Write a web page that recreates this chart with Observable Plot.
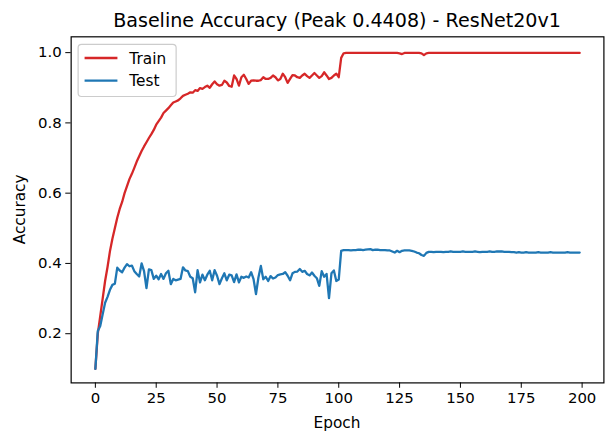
<!DOCTYPE html>
<html>
<head>
<meta charset="utf-8">
<script src="https://cdn.jsdelivr.net/npm/d3@7"></script>
<script src="https://cdn.jsdelivr.net/npm/@observablehq/plot@0.6"></script>
<style>
  html, body { margin: 0; padding: 0; background: #fff; overflow: hidden; }
  #chart { width: 605px; height: 439px; overflow: hidden; position: relative; }
</style>
</head>
<body>
<div id="chart"></div>
<script>
const titleText = "Baseline Accuracy (Peak 0.4408) - ResNet20v1";
const xLabel = "Epoch";
const yLabel = "Accuracy";
const seriesNames = ["Train", "Test"];
const seriesColors = ["#d62728", "#1f77b4"];
const xTicks = [0, 25, 50, 75, 100, 125, 150, 175, 200];
const yTicks = [0.2, 0.4, 0.6, 0.8, 1.0];

const train = [
  0.100,0.200,0.250,0.300,0.350,0.390,0.435,0.470,0.500,0.530,
  0.555,0.575,0.600,0.620,0.640,0.655,0.672,0.690,0.705,0.720,
  0.733,0.745,0.757,0.768,0.780,0.795,0.805,0.815,0.828,0.835,
  0.842,0.850,0.858,0.861,0.864,0.870,0.877,0.880,0.883,0.887,
  0.886,0.893,0.891,0.899,0.897,0.902,0.906,0.900,0.910,0.918,
  0.910,0.906,0.908,0.920,0.915,0.905,0.903,0.935,0.925,0.906,
  0.930,0.937,0.925,0.911,0.920,0.921,0.920,0.920,0.922,0.930,
  0.925,0.925,0.928,0.935,0.930,0.921,0.925,0.940,0.930,0.914,
  0.925,0.936,0.935,0.930,0.928,0.935,0.940,0.933,0.928,0.935,
  0.942,0.935,0.928,0.933,0.944,0.935,0.925,0.928,0.935,0.940,
  0.930,0.985,0.998,0.999,0.999,0.999,0.999,0.999,0.999,0.999,
  0.999,0.999,0.999,0.999,0.999,0.999,0.999,0.999,0.999,0.999,
  0.999,0.999,0.999,0.999,0.999,0.998,0.996,0.999,0.999,0.999,
  0.999,0.999,0.999,0.999,0.998,0.993,0.998,0.999,0.999,0.999,
  0.999,0.999,0.999,0.999,0.999,0.999,0.999,0.999,0.999,0.999,
  0.999,0.999,0.999,0.999,0.999,0.999,0.999,0.999,0.999,0.999,
  0.999,0.999,0.999,0.999,0.999,0.999,0.999,0.999,0.999,0.999,
  0.999,0.999,0.999,0.999,0.999,0.999,0.999,0.999,0.999,0.999,
  0.999,0.999,0.999,0.999,0.999,0.999,0.999,0.999,0.999,0.999,
  0.999,0.999,0.999,0.999,0.999,0.999,0.999,0.999,0.999,0.999
];

const test = [
  0.100,0.208,0.222,0.255,0.288,0.305,0.325,0.339,0.342,0.388,
  0.380,0.375,0.388,0.398,0.392,0.394,0.378,0.370,0.363,0.400,
  0.378,0.330,0.383,0.381,0.356,0.365,0.355,0.370,0.356,0.372,
  0.379,0.341,0.356,0.352,0.354,0.356,0.389,0.380,0.378,0.362,
  0.358,0.318,0.381,0.346,0.368,0.352,0.368,0.379,0.352,0.381,
  0.365,0.341,0.358,0.372,0.352,0.368,0.366,0.347,0.369,0.346,
  0.362,0.359,0.363,0.360,0.375,0.355,0.313,0.360,0.393,0.355,
  0.362,0.350,0.364,0.357,0.360,0.367,0.369,0.370,0.375,0.365,
  0.352,0.372,0.376,0.377,0.384,0.376,0.379,0.370,0.366,0.374,
  0.365,0.358,0.336,0.378,0.362,0.370,0.301,0.372,0.380,0.350,
  0.354,0.436,0.438,0.438,0.438,0.437,0.438,0.438,0.439,0.439,
  0.438,0.439,0.440,0.4408,0.438,0.439,0.439,0.438,0.438,0.438,
  0.437,0.437,0.434,0.431,0.436,0.432,0.436,0.437,0.437,0.437,
  0.436,0.434,0.431,0.429,0.424,0.4215,0.430,0.433,0.433,0.432,
  0.433,0.433,0.433,0.432,0.433,0.433,0.434,0.433,0.433,0.433,
  0.433,0.434,0.433,0.433,0.433,0.433,0.434,0.433,0.432,0.433,
  0.433,0.433,0.434,0.433,0.433,0.434,0.434,0.434,0.433,0.433,
  0.433,0.432,0.432,0.431,0.432,0.431,0.431,0.432,0.431,0.431,
  0.431,0.431,0.432,0.431,0.431,0.431,0.431,0.432,0.431,0.431,
  0.431,0.431,0.431,0.431,0.432,0.431,0.431,0.431,0.431,0.431
];

const FONT = "DejaVu Sans";
const mL = 71, mT = 36.5, mB = 54.7, W = 608, H = 439, mR = 1.6;

const plot = Plot.plot({
  width: W,
  height: H,
  marginLeft: mL,
  marginRight: mR,
  marginTop: mT,
  marginBottom: mB,
  style: { fontFamily: FONT, fontSize: "15px", color: "#000", background: "#fff" },
  x: { domain: [-9.95, 208.95], ticks: xTicks, tickSize: 5.4, tickPadding: 4, label: null },
  y: { domain: [0.06, 1.045], ticks: yTicks, tickFormat: d3.format(".1f"), tickSize: 5.4, tickPadding: 4, label: null },
  marks: [
    Plot.line(train, { x: (d, i) => i, y: d => d, stroke: seriesColors[0], strokeWidth: 2.3 }),
    Plot.line(test, { x: (d, i) => i, y: d => d, stroke: seriesColors[1], strokeWidth: 2.3 }),
    Plot.frame({ stroke: "#000", strokeWidth: 1.2 })
  ]
});

document.getElementById("chart").appendChild(plot);

const svg = d3.select(plot);
const plotCx = (mL + (W - mR)) / 2;

svg.append("text")
  .attr("x", plotCx).attr("y", 27)
  .attr("text-anchor", "middle")
  .attr("font-family", FONT).attr("font-size", 19.2)
  .attr("fill", "#000")
  .text(titleText);

svg.append("text")
  .attr("x", plotCx).attr("y", 430)
  .attr("text-anchor", "middle")
  .attr("font-family", FONT).attr("font-size", 15.4)
  .attr("fill", "#000")
  .text(xLabel);

svg.append("text")
  .attr("transform", `translate(25.5, ${(mT + (H - mB)) / 2}) rotate(-90)`)
  .attr("text-anchor", "middle")
  .attr("font-family", FONT).attr("font-size", 15.4)
  .attr("fill", "#000")
  .text(yLabel);

// legend
const lg = svg.append("g");
lg.append("rect")
  .attr("x", 78.5).attr("y", 44.5).attr("width", 98.5).attr("height", 52.5)
  .attr("rx", 3.5).attr("ry", 3.5)
  .attr("fill", "#fff").attr("fill-opacity", 0.8)
  .attr("stroke", "#cccccc").attr("stroke-width", 1.2);
seriesNames.forEach((name, i) => {
  const yy = 58.3 + i * 22.7;
  lg.append("line")
    .attr("x1", 85).attr("x2", 118).attr("y1", yy).attr("y2", yy)
    .attr("stroke", seriesColors[i]).attr("stroke-width", 2.3);
  lg.append("text")
    .attr("x", 130).attr("y", yy).attr("dy", "0.36em")
    .attr("text-anchor", "start")
    .attr("font-family", FONT).attr("font-size", 15.4)
    .attr("fill", "#000")
    .text(name);
});
</script>
</body>
</html>
